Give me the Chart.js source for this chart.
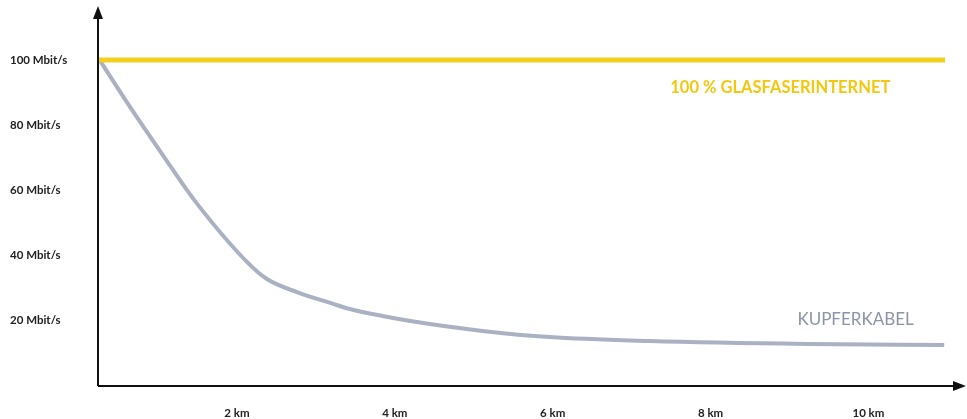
<!DOCTYPE html>
<html>
<head>
<meta charset="utf-8">
<script src="https://cdn.jsdelivr.net/npm/chart.js@4.4.1/dist/chart.umd.min.js"></script>
<style>
  html, body { margin: 0; padding: 0; background: #fff; }
  #wrap { width: 967px; height: 419px; }
</style>
</head>
<body>
<div id="wrap"><canvas id="lineChart"></canvas></div>
<script>
// Werte (km / Mbit/s)
const xTicks = [2, 4, 6, 8, 10];
const yTicks = [20, 40, 60, 80, 100];
const kupferKm = [0.26, 0.62, 1.05, 1.47, 2.13, 2.38, 2.76, 3.22, 3.43, 4.28, 5.11, 5.96, 7.23, 9.22, 10.96];
const kupferMbit = [100, 86.5, 71.2, 56.7, 38.0, 32.8, 28.8, 25.2, 23.6, 19.6, 16.9, 15.0, 13.8, 12.9, 12.6];
const glasKm = [0.24, 10.97];
const glasMbit = [100, 100];

const ctx = document.getElementById('lineChart').getContext('2d');

// Pfeile an den Achsen + Beschriftungen der Linien
const pfeilPlugin = {
    id: 'pfeile',
    afterDraw(chart) {
        const { ctx, chartArea, scales } = chart;
        const x0 = chartArea.left, y0 = chartArea.bottom;
        ctx.save();
        ctx.strokeStyle = '#111';
        ctx.fillStyle = '#111';
        ctx.lineWidth = 2;
        // y-Achse bis zur Spitze
        ctx.beginPath();
        ctx.moveTo(x0, y0);
        ctx.lineTo(x0, 14);
        ctx.stroke();
        ctx.beginPath();
        ctx.moveTo(x0, 6);
        ctx.lineTo(x0 - 5, 19);
        ctx.lineTo(x0 + 5, 19);
        ctx.closePath();
        ctx.fill();
        // x-Achse
        ctx.beginPath();
        ctx.moveTo(x0, y0);
        ctx.lineTo(958, y0);
        ctx.stroke();
        ctx.beginPath();
        ctx.moveTo(966, y0);
        ctx.lineTo(953, y0 - 5);
        ctx.lineTo(953, y0 + 5);
        ctx.closePath();
        ctx.fill();

        // Texte
        ctx.textBaseline = 'middle';
        ctx.textAlign = 'left';
        ctx.font = 'bold 16.5px Lato';
        ctx.fillStyle = '#f2c80f';
        ctx.fillText('100 % GLASFASERINTERNET', scales.x.getPixelForValue(7.49), scales.y.getPixelForValue(91.5));
        ctx.font = '17px Lato';
        ctx.fillStyle = '#8c94a6';
        ctx.fillText('KUPFERKABEL', scales.x.getPixelForValue(9.1), scales.y.getPixelForValue(20.5));
        ctx.restore();
    }
};

let chart = new Chart(ctx, {
    type: 'line',
    data: {
        datasets: [{
            label: 'Glasfaser',
            data: glasKm.map((k, i) => ({ x: k, y: glasMbit[i] })),
            borderColor: '#f4d01e',
            borderWidth: 5,
            pointRadius: 0,
            borderCapStyle: 'butt'
        }, {
            label: 'Kupferkabel',
            data: kupferKm.map((k, i) => ({ x: k, y: kupferMbit[i] })),
            borderColor: '#a9b1c2',
            borderWidth: 4,
            pointRadius: 0,
            cubicInterpolationMode: 'monotone'
        }]
    },
    options: {
        responsive: true,
        maintainAspectRatio: false,
        animation: false,
        layout: { padding: { left: 10, right: 7, top: 12, bottom: 0 } },
        plugins: {
            legend: { display: false },
            tooltip: { enabled: false }
        },
        scales: {
            x: {
                type: 'linear',
                min: 0.24,
                max: 11.16,
                grid: { display: false, drawTicks: false },
                border: { display: false },
                afterBuildTicks: (s) => { s.ticks = xTicks.map(v => ({ value: v })); },
                afterFit: (s) => { s.height = 33; },
                ticks: {
                    padding: 20,
                    color: '#222',
                    font: { family: 'Lato', size: 11.5, weight: 'bold' },
                    maxRotation: 0,
                    callback: (v) => v + ' km'
                }
            },
            y: {
                min: 0,
                max: 114.7,
                grid: { display: false, drawTicks: false },
                border: { display: false },
                afterBuildTicks: (s) => { s.ticks = yTicks.map(v => ({ value: v })); },
                afterFit: (s) => { s.width = 88; },
                ticks: {
                    crossAlign: 'far',
                    color: '#222',
                    font: { family: 'Lato', size: 11.5, weight: 'bold' },
                    callback: (v) => v + ' Mbit/s'
                }
            }
        }
    },
    plugins: [pfeilPlugin]
});
</script>
</body>
</html>
